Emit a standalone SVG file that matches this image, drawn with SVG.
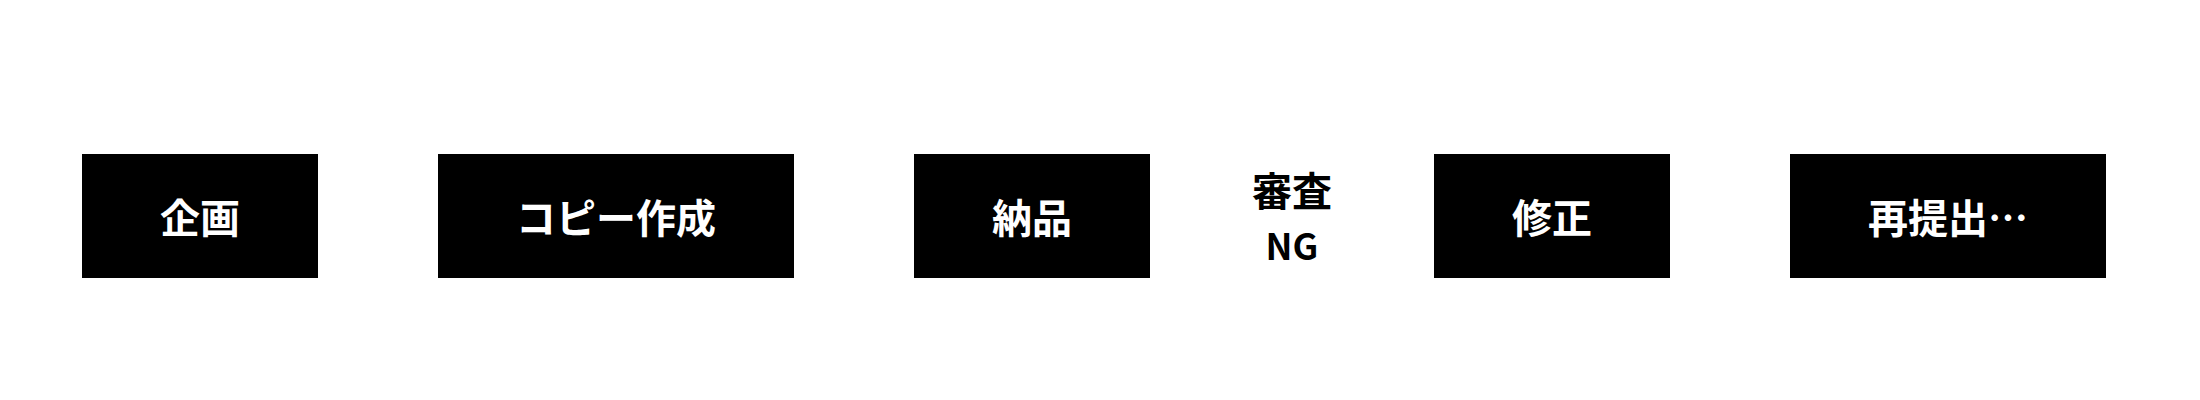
<svg xmlns="http://www.w3.org/2000/svg" width="2200" height="400" viewBox="0 0 2200 400">
<defs>
<style>
.box{fill:#000000;}
.lbl{font-family:"Noto Sans CJK JP","Noto Sans",sans-serif;font-weight:700;font-size:40px;fill:#ffffff;text-anchor:middle;dominant-baseline:central;}
.dark{fill:#000000;}
.ng{font-size:36px;}
.title{font-family:"Noto Sans CJK JP","Noto Sans",sans-serif;font-weight:700;font-size:38px;fill:#ffffff;}
.chev{fill:none;stroke:#ffffff;stroke-width:4;stroke-linecap:round;stroke-linejoin:round;}
.loop{fill:none;stroke:#ffffff;stroke-width:4;}
</style>
<marker id="ah" viewBox="0 0 10 10" refX="8" refY="5" markerWidth="5" markerHeight="5" orient="auto">
<path d="M0,0 L10,5 L0,10 z" fill="#ffffff"/>
</marker>
</defs>
<rect width="2200" height="400" fill="#ffffff"/>
<text class="title" x="82" y="80">従来</text>
<g id="connectors">
<polyline class="chev" points="363,187 395,216 363,245"/>
<polyline class="chev" points="841,187 873,216 841,245"/>
<polyline class="chev" points="1714,187 1746,216 1714,245"/>
<path class="loop" marker-end="url(#ah)" d="M1198,210 C1210,120 1300,60 1380,72 C1420,78 1445,95 1455,130"/>
<path class="loop" marker-end="url(#ah)" d="M1490,290 C1450,335 1370,345 1300,320 C1250,305 1215,285 1200,270"/>
</g>
<g id="n-kikaku"><rect class="box" x="82" y="154" width="236" height="124"/><text class="lbl" x="200" y="216">企画</text></g>
<g id="n-copy"><rect class="box" x="438" y="154" width="356" height="124"/><text class="lbl" x="616" y="216">コピー作成</text></g>
<g id="n-nohin"><rect class="box" x="914" y="154" width="236" height="124"/><text class="lbl" x="1032" y="216">納品</text></g>
<g id="n-shinsa"><text class="lbl dark" x="1292" y="189">審査</text><text class="lbl dark ng" x="1292" y="244">NG</text></g>
<g id="n-shusei"><rect class="box" x="1434" y="154" width="236" height="124"/><text class="lbl" x="1552" y="216">修正</text></g>
<g id="n-saiteishutsu"><rect class="box" x="1790" y="154" width="316" height="124"/><text class="lbl" x="1948" y="216">再提出…</text></g>
</svg>
